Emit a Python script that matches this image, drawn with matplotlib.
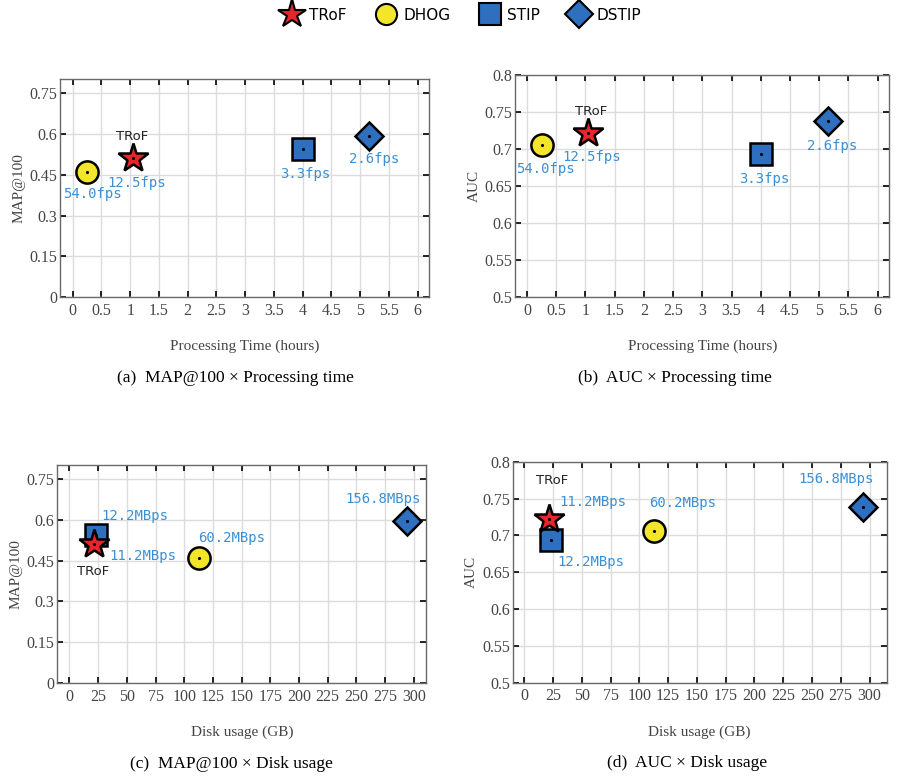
import matplotlib.pyplot as plt
import numpy as np
from matplotlib.lines import Line2D

methods = ['TRoF', 'DHOG', 'STIP', 'DSTIP']
markers = ['*', 'o', 's', 'D']
colors = ['#e8262a', '#f2e52a', '#2e6fbf', '#2e6fbf']
sizes = [22, 16, 16, 14.5]

# values
proc_time = [1.05, 0.25, 4.0, 5.15]        # hours
disk_usage = [21.5, 112.5, 23.3, 294.0]    # GB
map100 = [0.51, 0.46, 0.544, 0.593]
auc = [0.722, 0.706, 0.694, 0.739]

fps_labels = ['12.5fps', '54.0fps', '3.3fps', '2.6fps']
mbps_labels = ['11.2MBps', '60.2MBps', '12.2MBps', '156.8MBps']

# label positions (data coords) per panel: (x, y) for each method + TRoF name
lab_a = [(0.6, 0.42), (-0.17, 0.378), (3.61, 0.451), (4.81, 0.507)]
trof_a = (1.04, 0.59)
lab_b = [(0.61, 0.690), (-0.19, 0.674), (3.62, 0.660), (4.79, 0.705)]
trof_b = (1.09, 0.751)
lab_c = [(34.5, 0.468), (111.7, 0.532), (28.0, 0.613), (240.0, 0.676)]
trof_c = (21.0, 0.408)
lab_d = [(30.4, 0.746), (108.7, 0.744), (28.4, 0.664), (238.0, 0.776)]
trof_d = (24.0, 0.775)

serif = ['Liberation Serif', 'DejaVu Serif']
ann_color = '#3a8fd6'

fig = plt.figure(figsize=(9, 7.78), dpi=100)

positions = [
    [0.0667, 0.618, 0.41, 0.280],
    [0.5726, 0.618, 0.4156, 0.285],
    [0.0637, 0.1217, 0.41, 0.2806],
    [0.5697, 0.1225, 0.4156, 0.284],
]


def style_axes(ax, xticks, xlim, yticks, ylim, xlabel, ylabel):
    ax.set_xlim(xlim)
    ax.set_ylim(ylim)
    ax.set_xticks(xticks)
    ax.set_yticks(yticks)
    ax.set_xticklabels([('%g' % t) for t in xticks], family=serif, fontsize=11.5, color='#444444')
    ax.set_yticklabels([('%g' % t) for t in yticks], family=serif, fontsize=11.5, color='#444444')
    ax.tick_params(direction='in', length=4, width=1.2, color='black',
                   top=True, right=True, pad=4)
    ax.tick_params(axis='y', pad=2)
    ax.grid(True, color='#dcdcdc', linewidth=1)
    ax.set_axisbelow(True)
    for s in ax.spines.values():
        s.set_color('#6a6a6a')
        s.set_linewidth(1)
    ax.set_xlabel(xlabel, family=serif, fontsize=11, color='#444444', labelpad=15)
    ax.set_ylabel(ylabel, family=serif, fontsize=11, color='#444444', labelpad=3)


def draw_points(ax, xs, ys):
    # draw stars last so they sit on top
    for i in [2, 1, 3, 0]:
        ax.plot(xs[i], ys[i], marker=markers[i], markersize=sizes[i], color=colors[i],
                markeredgecolor='black', markeredgewidth=1.8, linestyle='none', zorder=3)
        ax.plot(xs[i], ys[i], marker='.', markersize=2.5, color='black', zorder=4)


def put_labels(ax, labels, pos, trof_pos):
    for lab, (x, y) in zip(labels, pos):
        ax.text(x, y, lab, family='DejaVu Sans Mono', fontsize=10, color=ann_color,
                va='center', ha='left', zorder=5)
    ax.text(trof_pos[0], trof_pos[1], 'TRoF', family='DejaVu Sans', fontsize=9.5,
            color='#222222', va='center', ha='center', zorder=5)


t_ticks = np.arange(0, 6.01, 0.5)
d_ticks = np.arange(0, 301, 25)
map_ticks = [0, 0.15, 0.3, 0.45, 0.6, 0.75]
auc_ticks = [0.5, 0.55, 0.6, 0.65, 0.7, 0.75, 0.8]

ax_a = fig.add_axes(positions[0])
style_axes(ax_a, t_ticks, (-0.22, 6.2), map_ticks, (0, 0.8),
           'Processing Time (hours)', 'MAP@100')
draw_points(ax_a, proc_time, map100)
put_labels(ax_a, fps_labels, lab_a, trof_a)

ax_b = fig.add_axes(positions[1])
style_axes(ax_b, t_ticks, (-0.2, 6.2), auc_ticks, (0.5, 0.8),
           'Processing Time (hours)', 'AUC')
draw_points(ax_b, proc_time, auc)
put_labels(ax_b, fps_labels, lab_b, trof_b)

ax_c = fig.add_axes(positions[2])
style_axes(ax_c, d_ticks, (-10.6, 311), map_ticks, (0, 0.8),
           'Disk usage (GB)', 'MAP@100')
draw_points(ax_c, disk_usage, map100)
put_labels(ax_c, mbps_labels, lab_c, trof_c)

ax_d = fig.add_axes(positions[3])
style_axes(ax_d, d_ticks, (-10, 315), auc_ticks, (0.5, 0.8),
           'Disk usage (GB)', 'AUC')
draw_points(ax_d, disk_usage, auc)
put_labels(ax_d, mbps_labels, lab_d, trof_d)

captions = ['(a)  MAP@100 \u00d7 Processing time', '(b)  AUC \u00d7 Processing time',
            '(c)  MAP@100 \u00d7 Disk usage', '(d)  AUC \u00d7 Disk usage']
cap_xy = [(235, 378), (675, 378), (231, 764), (687, 763)]
for cap, (x, y) in zip(captions, cap_xy):
    fig.text(x / 900, 1 - y / 778, cap, family=serif, fontsize=12.5,
             ha='center', va='center', color='black')

handles = [Line2D([], [], marker=markers[i], markersize=sizes[i] * 0.95, color=colors[i],
                  markeredgecolor='black', markeredgewidth=1.5, linestyle='none')
           for i in range(4)]
fig.legend(handles, methods, loc='center', bbox_to_anchor=(0.51, 1 - 15 / 778), ncol=4,
           frameon=False, prop={'family': 'DejaVu Sans', 'size': 11},
           handletextpad=0.1, columnspacing=1.6)

fig.savefig('out.png', dpi=100)
